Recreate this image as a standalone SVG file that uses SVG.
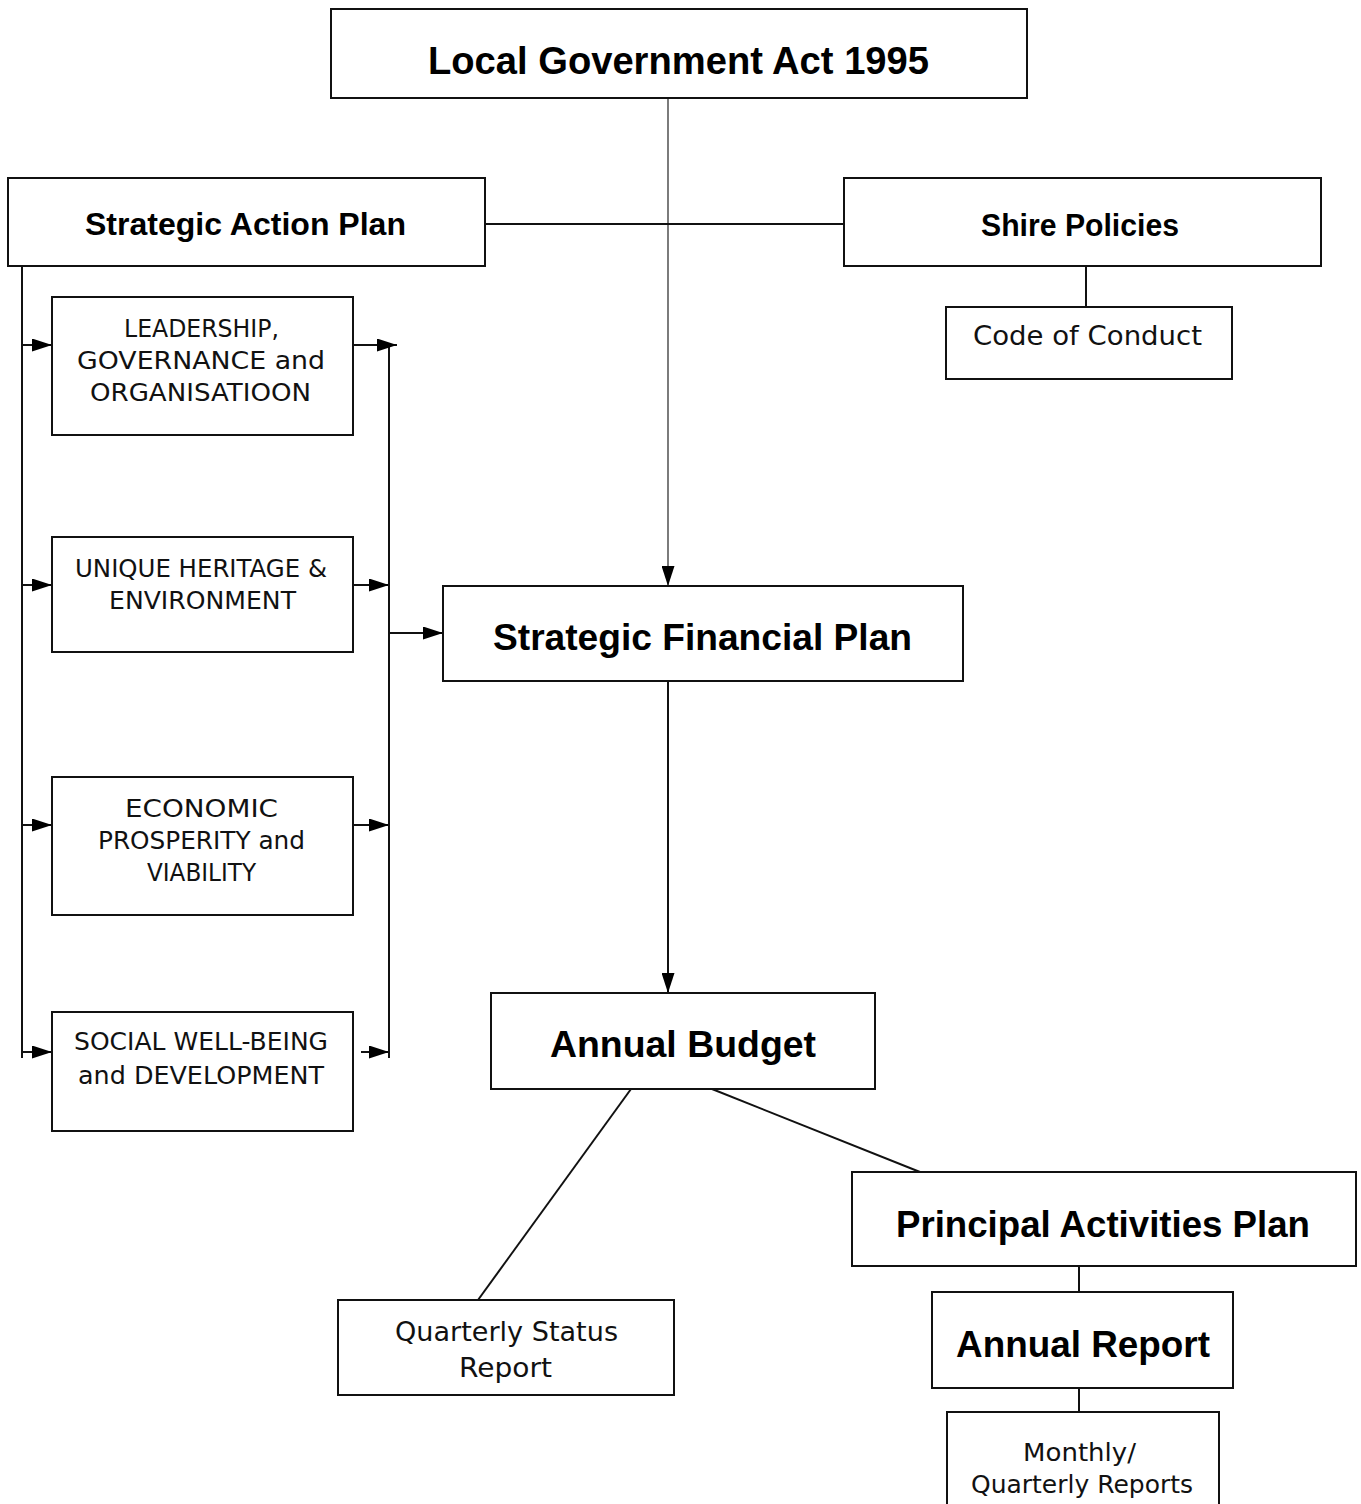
<svg xmlns="http://www.w3.org/2000/svg" width="1361" height="1504" viewBox="0 0 1361 1504">
<style>
.box{fill:#fff;stroke:#111;stroke-width:2}
.b{font-family:"Liberation Sans",Arial,sans-serif;font-weight:bold;fill:#000;text-anchor:middle}
.r{font-family:"DejaVu Sans","Liberation Sans",sans-serif;fill:#111;text-anchor:middle}
.big{font-size:37px}
.mid{font-size:31px}
.sm{font-size:24px}
.c{stroke:#111;stroke-width:2;fill:none}
.thin{stroke:#444;stroke-width:1.4;fill:none}
</style>
<defs>
<marker id="ah" viewBox="0 0 20 13" refX="20" refY="6.5" markerWidth="20" markerHeight="13" markerUnits="userSpaceOnUse" orient="auto"><path d="M0,0 L20,6.5 L0,13 z" fill="#000"/></marker>
</defs>
<rect width="1361" height="1504" fill="#fff"/>
<g id="connectors">
<line class="thin" x1="668" y1="98" x2="668" y2="586" marker-end="url(#ah)"/>
<line class="c" x1="485" y1="224" x2="844" y2="224"/>
<line class="c" x1="1086" y1="266" x2="1086" y2="307"/>
<line class="c" x1="22" y1="266" x2="22" y2="1058"/>
<line class="c" x1="22" y1="345" x2="52" y2="345" marker-end="url(#ah)"/>
<line class="c" x1="22" y1="585" x2="52" y2="585" marker-end="url(#ah)"/>
<line class="c" x1="22" y1="825" x2="52" y2="825" marker-end="url(#ah)"/>
<line class="c" x1="22" y1="1052" x2="52" y2="1052" marker-end="url(#ah)"/>
<line class="c" x1="389" y1="345" x2="389" y2="1058"/>
<line class="c" x1="353" y1="345" x2="397" y2="345" marker-end="url(#ah)"/>
<line class="c" x1="353" y1="585" x2="389" y2="585" marker-end="url(#ah)"/>
<line class="c" x1="353" y1="825" x2="389" y2="825" marker-end="url(#ah)"/>
<line class="c" x1="361" y1="1052" x2="389" y2="1052" marker-end="url(#ah)"/>
<line class="c" x1="389" y1="633" x2="443" y2="633" marker-end="url(#ah)"/>
<line class="c" x1="668" y1="681" x2="668" y2="993" marker-end="url(#ah)"/>
<line class="c" x1="631" y1="1089" x2="478" y2="1300"/>
<line class="c" x1="712" y1="1089" x2="920" y2="1172"/>
<line class="c" x1="1079" y1="1266" x2="1079" y2="1292"/>
<line class="c" x1="1079" y1="1388" x2="1079" y2="1412"/>
</g>
<g id="lga">
<rect class="box" x="331" y="9" width="696" height="89"/>
<text class="b" x="678.5" y="74" font-size="38" textLength="501" lengthAdjust="spacingAndGlyphs">Local Government Act 1995</text>
</g>
<g id="sap">
<rect class="box" x="8" y="178" width="477" height="88"/>
<text class="b mid" x="245.5" y="235" textLength="321" lengthAdjust="spacingAndGlyphs">Strategic Action Plan</text>
</g>
<g id="shire">
<rect class="box" x="844" y="178" width="477" height="88"/>
<text class="b mid" x="1080" y="236" textLength="198" lengthAdjust="spacingAndGlyphs">Shire Policies</text>
</g>
<g id="code">
<rect class="box" x="946" y="307" width="286" height="72"/>
<text class="r" x="1087.5" y="345" font-size="26" textLength="229" lengthAdjust="spacingAndGlyphs">Code of Conduct</text>
</g>
<g id="leadership">
<rect class="box" x="52" y="297" width="301" height="138"/>
<text class="r sm" x="201.5" y="337" textLength="155" lengthAdjust="spacingAndGlyphs">LEADERSHIP,</text>
<text class="r sm" x="201" y="369" textLength="248" lengthAdjust="spacingAndGlyphs">GOVERNANCE and</text>
<text class="r sm" x="200.5" y="401" textLength="221" lengthAdjust="spacingAndGlyphs">ORGANISATIOON</text>
</g>
<g id="heritage">
<rect class="box" x="52" y="537" width="301" height="115"/>
<text class="r sm" x="201" y="577" textLength="252" lengthAdjust="spacingAndGlyphs">UNIQUE HERITAGE &amp;</text>
<text class="r sm" x="202.5" y="609" textLength="187" lengthAdjust="spacingAndGlyphs">ENVIRONMENT</text>
</g>
<g id="economic">
<rect class="box" x="52" y="777" width="301" height="138"/>
<text class="r sm" x="201.5" y="817" textLength="153" lengthAdjust="spacingAndGlyphs">ECONOMIC</text>
<text class="r sm" x="201.5" y="849" textLength="207" lengthAdjust="spacingAndGlyphs">PROSPERITY and</text>
<text class="r sm" x="201.5" y="881" textLength="109" lengthAdjust="spacingAndGlyphs">VIABILITY</text>
</g>
<g id="social">
<rect class="box" x="52" y="1012" width="301" height="119"/>
<text class="r sm" x="201" y="1050" textLength="254" lengthAdjust="spacingAndGlyphs">SOCIAL WELL-BEING</text>
<text class="r sm" x="201" y="1084" textLength="246" lengthAdjust="spacingAndGlyphs">and DEVELOPMENT</text>
</g>
<g id="sfp">
<rect class="box" x="443" y="586" width="520" height="95"/>
<text class="b big" x="702.5" y="650" textLength="419" lengthAdjust="spacingAndGlyphs">Strategic Financial Plan</text>
</g>
<g id="budget">
<rect class="box" x="491" y="993" width="384" height="96"/>
<text class="b big" x="683" y="1057" textLength="266" lengthAdjust="spacingAndGlyphs">Annual Budget</text>
</g>
<g id="pap">
<rect class="box" x="852" y="1172" width="504" height="94"/>
<text class="b big" x="1103" y="1237" textLength="414" lengthAdjust="spacingAndGlyphs">Principal Activities Plan</text>
</g>
<g id="report">
<rect class="box" x="932" y="1292" width="301" height="96"/>
<text class="b big" x="1083" y="1357" textLength="254" lengthAdjust="spacingAndGlyphs">Annual Report</text>
</g>
<g id="qsr">
<rect class="box" x="338" y="1300" width="336" height="95"/>
<text class="r" x="506.5" y="1341" font-size="27" textLength="223" lengthAdjust="spacingAndGlyphs">Quarterly Status</text>
<text class="r" x="505.5" y="1377" font-size="27" textLength="93" lengthAdjust="spacingAndGlyphs">Report</text>
</g>
<g id="monthly">
<rect class="box" x="947" y="1412" width="272" height="100"/>
<text class="r" x="1079.5" y="1461" font-size="25" textLength="113" lengthAdjust="spacingAndGlyphs">Monthly/</text>
<text class="r" x="1082" y="1493" font-size="25" textLength="222" lengthAdjust="spacingAndGlyphs">Quarterly Reports</text>
</g>
</svg>
